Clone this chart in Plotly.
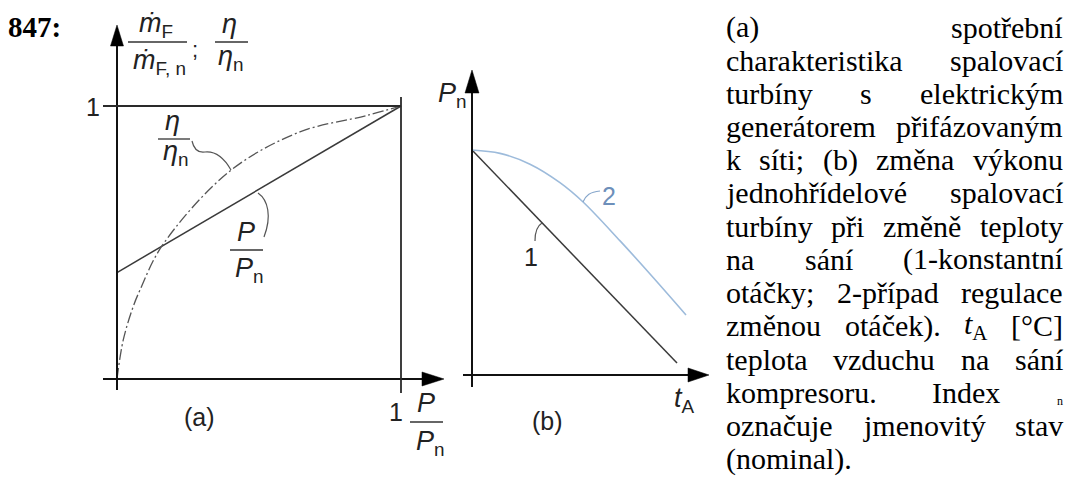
import unicodedata
import plotly.graph_objects as go

# ---------------- data ----------------
# (a) part-load characteristic, everything relative to nominal
load_ratio = [0.0, 1.0]                 # P / P_n
fuel_ratio = [0.39, 1.0]                # m_F / m_F,n
eff_load = [0.0, 0.022, 0.057, 0.081, 0.16, 0.398, 0.644, 0.879, 1.0]
eff_ratio = [0.0, 0.143, 0.265, 0.326, 0.49, 0.762, 0.905, 0.965, 1.0]   # eta / eta_n

# (b) output vs. compressor inlet air temperature (arbitrary units)
t_amb_1 = [0.0, 9.58]
power_1 = [1.0, 0.053]                  # 1 - constant speed
t_amb_2 = [0.0, 1.31, 2.71, 4.11, 5.19, 6.92, 8.32, 10.0]
power_2 = [1.0, 0.985, 0.937, 0.855, 0.769, 0.596, 0.449, 0.267]   # 2 - variable speed

W, H = 1070, 485


def px(x):
    return x / W


def py(y):
    return 1 - y / H


def lin(p, p0, p1, d0, d1):
    return d0 + (p - p0) * (d1 - d0) / (p1 - p0)


fig = go.Figure()

# panel (a) axes: data 0..1 -> pixels
AX = dict(p0=117, p1=401, dom=(90, 455))
AY = dict(p0=379, p1=106, dom=(15, 400))
# panel (b)
BX = dict(p0=472, p1=686, dom=(460, 715), d1=10.0)
BY = dict(p0=375, p1=150, dom=(60, 400))


def xaxis_cfg(c, d1=1.0):
    lo, hi = c["dom"]
    return dict(domain=[px(lo), px(hi)],
                range=[lin(lo, c["p0"], c["p1"], 0, d1), lin(hi, c["p0"], c["p1"], 0, d1)],
                visible=False, fixedrange=True)


def yaxis_cfg(c, anchor):
    top, bot = c["dom"]
    return dict(domain=[py(bot), py(top)],
                range=[lin(bot, c["p0"], c["p1"], 0, 1), lin(top, c["p0"], c["p1"], 0, 1)],
                visible=False, fixedrange=True, anchor=anchor)


LINE = "#3a3a3a"
fig.add_trace(go.Scatter(x=load_ratio, y=fuel_ratio, mode="lines",
                         line=dict(color=LINE, width=1.5), xaxis="x", yaxis="y"))
fig.add_trace(go.Scatter(x=eff_load, y=eff_ratio, mode="lines",
                         line=dict(color="#555555", width=1.3, shape="spline",
                                   dash="11px,3px,2px,3px"), xaxis="x", yaxis="y"))
fig.add_trace(go.Scatter(x=t_amb_1, y=power_1, mode="lines",
                         line=dict(color=LINE, width=1.5), xaxis="x2", yaxis="y2"))
fig.add_trace(go.Scatter(x=t_amb_2, y=power_2, mode="lines",
                         line=dict(color="#9dbbdb", width=1.6, shape="spline"),
                         xaxis="x2", yaxis="y2"))

shapes = []


def seg(x0, y0, x1, y1, color="#111111", width=2.0):
    shapes.append(dict(type="line", xref="paper", yref="paper",
                       x0=px(x0), y0=py(y0), x1=px(x1), y1=py(y1),
                       line=dict(color=color, width=width)))


def path(points_cmd, color="#555555", width=1.2, fill=None):
    d = []
    for item in points_cmd:
        if isinstance(item, str):
            d.append(item)
        else:
            d.append(f"{px(item[0]):.5f},{py(item[1]):.5f}")
    sh = dict(type="path", xref="paper", yref="paper", path=" ".join(d),
              line=dict(color=color, width=width))
    if fill:
        sh["fillcolor"] = fill
        sh["line"] = dict(color=fill, width=0.5)
    shapes.append(sh)


def arrow_up(x, tip, length=21, half=6.5):
    path(["M", (x, tip), "L", (x - half, tip + length), "L", (x + half, tip + length), "Z"], fill="#000000")


def arrow_right(y, tip, length=22, half=7):
    path(["M", (tip, y), "L", (tip - length, y - half), "L", (tip - length, y + half), "Z"], fill="#000000")


# panel (a) axes, guide lines and arrows
seg(117, 390, 117, 40)
seg(103, 379, 430, 379)
seg(103, 106, 401, 106, color="#2a2a2a", width=1.8)
seg(401, 97, 401, 393, color="#2a2a2a", width=1.8)
arrow_up(117, 25)
arrow_right(379, 444)

# panel (b) axes and arrows
seg(472, 387, 472, 85)
seg(463, 375, 695, 375)
arrow_up(472, 70, length=23, half=7)
arrow_right(375, 709, length=21, half=7)

# fraction bars
seg(128, 42, 187, 42, color="#333333", width=1.3)
seg(215, 42, 248, 42, color="#333333", width=1.3)
seg(158, 139, 190, 139, color="#333333", width=1.3)
seg(230, 250, 263, 250, color="#333333", width=1.3)
seg(410, 422, 443, 422, color="#333333", width=1.3)

# callout leaders
path(["M", (192, 141), "C", (194, 150), (198, 153), (205, 152),
      "C", (215, 151), (223, 156), (231, 170)])
path(["M", (258, 193), "C", (268, 200), (272, 216), (264, 237)])
path(["M", (542, 223), "C", (537, 226), (535, 232), (535, 241)])
path(["M", (583, 202), "C", (586, 195), (590, 192), (600, 191)], color="#86a6cb")

annotations = []
SANS = "Liberation Sans"
SERIF = "Liberation Serif"
INK = "#222222"


def label(x, y, text, size=27, color=INK, family=SANS, xanchor="center"):
    annotations.append(dict(x=px(x), y=py(y), xref="paper", yref="paper", text=text,
                            showarrow=False, xanchor=xanchor, yanchor="middle",
                            font=dict(family=family, size=size, color=color),
                            borderpad=0, borderwidth=0))


# panel (a) texts
label(156, 25, "<i>ṁ</i><sub>F</sub>")
label(159, 62, "<i>ṁ</i><sub>F, n</sub>")
label(195, 50, ";", size=22)
label(229, 24, "<i>η</i>")
label(231, 58, "<i>η</i><sub>n</sub>")
label(93, 107, "1", size=25)
label(172, 121, "<i>η</i>")
label(176, 153, "<i>η</i><sub>n</sub>")
label(246, 232, "<i>P</i>")
label(249, 270, "<i>P</i><sub>n</sub>")
label(199, 417, "(a)", size=25)
label(396, 412, "1", size=25)
label(426, 403, "<i>P</i>")
label(430, 443, "<i>P</i><sub>n</sub>")

# panel (b) texts
label(452, 95, "<i>P</i><sub>n</sub>")
label(684, 400, "<i>t</i><sub>A</sub>")
label(547, 421, "(b)", size=25)
label(609, 196, "2", size=25, color="#6d8fba")
label(531, 257, "1", size=25)

# number and caption
label(8, 27, "<b>847:</b>", size=29, color="#000000", family=SERIF, xanchor="left")

TIMES = {
    "a": 444, "b": 500, "c": 444, "d": 500, "e": 444, "f": 333, "g": 500, "h": 500,
    "i": 278, "j": 278, "k": 500, "l": 278, "m": 778, "n": 500, "o": 500, "p": 500,
    "q": 500, "r": 333, "s": 389, "t": 278, "u": 500, "v": 500, "w": 722, "x": 500,
    "y": 500, "z": 444, "A": 722, "C": 667, "I": 333, "(": 333, ")": 333, ";": 278,
    ".": 250, "-": 333, "[": 333, "]": 333, "°": 400, ":": 278, ",": 250,
}


def word_width(word, size):
    total = 0
    for ch in word:
        base = unicodedata.normalize("NFD", ch)[0]
        total += TIMES.get(base, 500)
    return total * size / 1000.0


CAP_SIZE = 30
COL_L, COL_R = 726, 1063
LINE0, STEP = 27, 33.2

caption = [
    ["(a)", "spotřební"],
    ["charakteristika", "spalovací"],
    ["turbíny", "s", "elektrickým"],
    ["generátorem", "přifázovaným"],
    ["k", "síti;", "(b)", "změna", "výkonu"],
    ["jednohřídelové", "spalovací"],
    ["turbíny", "při", "změně", "teploty"],
    ["na", "sání", "(1-konstantní"],
    ["otáčky;", "2-případ", "regulace"],
    ["změnou", "otáček).", "tA", "[°C]"],
    ["teplota", "vzduchu", "na", "sání"],
    ["kompresoru.", "Index", "n"],
    ["označuje", "jmenovitý", "stav"],
    ["(nominal)."],
]

for i, words in enumerate(caption):
    yc = LINE0 + STEP * i
    if len(words) == 1:
        label(COL_L, yc, words[0], size=CAP_SIZE, color="#000000", family=SERIF, xanchor="left")
        continue
    widths = []
    texts = []
    for w in words:
        if w == "tA":
            widths.append((278 + 0.7 * 722) * CAP_SIZE / 1000.0)
            texts.append("<i>t</i><sub>A</sub>")
        elif w == "n" and i == 11:
            widths.append(7)
            texts.append(None)
        else:
            widths.append(word_width(w, CAP_SIZE))
            texts.append(w)
    gap = (COL_R - COL_L - sum(widths)) / (len(words) - 1)
    x = COL_L
    for w, t in zip(widths, texts):
        if t is None:
            label(COL_R, yc + 9, "n", size=12, color="#000000", family=SERIF, xanchor="right")
        else:
            label(x, yc, t, size=CAP_SIZE, color="#000000", family=SERIF, xanchor="left")
        x += w + gap

fig.update_layout(
    width=W, height=H, margin=dict(l=0, r=0, t=0, b=0),
    paper_bgcolor="white", plot_bgcolor="rgba(0,0,0,0)",
    showlegend=False,
    xaxis=xaxis_cfg(AX), yaxis=yaxis_cfg(AY, "x"),
    xaxis2=xaxis_cfg(BX, d1=BX["d1"]), yaxis2=yaxis_cfg(BY, "x2"),
    shapes=shapes, annotations=annotations,
)

fig.write_html("out.html")
